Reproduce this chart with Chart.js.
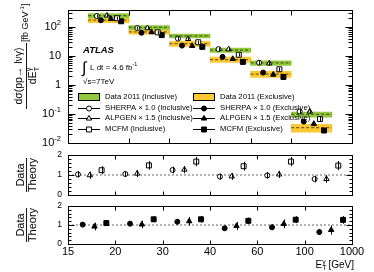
<!DOCTYPE html>
<html>
<head>
<meta charset="utf-8">
<script src="https://cdn.jsdelivr.net/npm/chart.js@4.4.0/dist/chart.umd.min.js"></script>
<style>
html, body { margin: 0; padding: 0; background: #fff; }
#wrap { position: relative; width: 374px; height: 272px; overflow: hidden; }
canvas { position: absolute; left: 0; }
</style>
</head>
<body>
<div id="wrap">
  <canvas id="mainChart" width="374" height="150" style="top:0px"></canvas>
  <canvas id="ratioInclChart" width="374" height="50" style="top:150px"></canvas>
  <canvas id="ratioExclChart" width="374" height="72" style="top:200px"></canvas>
</div>
<script>
// bin edges of photon ET (GeV), bins are drawn with equal width
const binEdges = ['15', '20', '30', '40', '60', '100', '1000'];

// Data 2011, dsigma/dET [fb/GeV] and relative band half width
const dataIncl = [250, 98, 50, 16, 5.8, 0.098];
const dataExcl = [175, 69, 27, 7.6, 2.4, 0.034];
const dataInclErr = [0.17, 0.16, 0.16, 0.17, 0.18, 0.2];
const dataExclErr = [0.18, 0.18, 0.2, 0.21, 0.23, 0.3];

// predictions
const sherpaIncl = [242, 93, 40, 17.4, 5.9, 0.123];
const alpgenIncl = [252, 92, 39, 17.2, 5.6, 0.123];
const mcfmIncl = [202, 66, 30, 11.1, 3.5, 0.067];
const sherpaExcl = [172, 64, 23, 9.4, 2.7, 0.055];
const alpgenExcl = [192, 67, 22.5, 8.0, 2.3, 0.046];
const mcfmExcl = [159, 53, 20.8, 6.3, 1.9, 0.027];
const theoryErr = [0.12, 0.12, 0.13, 0.13, 0.15, 0.18];

// data / theory
const ratioSherpaIncl = [1.03, 1.05, 1.25, 0.92, 0.98, 0.80];
const ratioAlpgenIncl = [0.99, 1.07, 1.27, 0.93, 1.03, 0.80];
const ratioMcfmIncl = [1.24, 1.48, 1.67, 1.44, 1.67, 1.47];
const ratioSherpaExcl = [1.02, 1.07, 1.17, 0.83, 0.88, 0.63];
const ratioAlpgenExcl = [0.92, 1.03, 1.20, 0.95, 1.06, 0.74];
const ratioMcfmExcl = [1.10, 1.30, 1.30, 1.22, 1.28, 1.27];

const ratioErrSherpaIncl = [0.15, 0.15, 0.17, 0.15, 0.16, 0.17];
const ratioErrAlpgenIncl = [0.18, 0.17, 0.18, 0.17, 0.18, 0.19];
const ratioErrMcfmIncl = [0.2, 0.21, 0.23, 0.22, 0.23, 0.23];
const ratioErrSherpaExcl = [0.13, 0.13, 0.15, 0.14, 0.15, 0.16];
const ratioErrAlpgenExcl = [0.2, 0.2, 0.22, 0.21, 0.23, 0.24];
const ratioErrMcfmExcl = [0.15, 0.15, 0.17, 0.17, 0.18, 0.2];

const inclLabels = ['Data 2011 (Inclusive)', 'SHERPA \u00d7 1.0 (Inclusive)', 'ALPGEN \u00d7 1.5 (Inclusive)', 'MCFM (Inclusive)'];
const exclLabels = ['Data 2011 (Exclusive)', 'SHERPA \u00d7 1.0 (Exclusive)', 'ALPGEN \u00d7 1.5 (Exclusive)', 'MCFM (Exclusive)'];

const GREEN = '#93c83e';
const YELLOW = '#fcc934';
const FONT = "'Liberation Sans', Arial, Helvetica, sans-serif";

Chart.defaults.font.family = FONT;
Chart.defaults.color = '#000';

// marker style per series, off = position inside the bin
const STYLE = {
    sherpaIncl: { shape: 'circle', fill: '#fff', off: 0.21, r: 2.5 },
    sherpaExcl: { shape: 'circle', fill: '#000', off: 0.31, r: 2.5 },
    alpgenIncl: { shape: 'triangle', fill: '#fff', off: 0.46, r: 3.1 },
    alpgenExcl: { shape: 'triangle', fill: '#000', off: 0.56, r: 3.1 },
    mcfmIncl: { shape: 'rect', fill: '#fff', off: 0.71, r: 3.5 },
    mcfmExcl: { shape: 'rect', fill: '#000', off: 0.81, r: 3.5 }
};

function markerSet(values, errs, key, relErr) {
    const s = STYLE[key];
    return {
        type: 'scatter',
        data: values.map((v, i) => ({ x: i + s.off, y: v })),
        errs: errs,
        relErr: relErr,
        pointStyle: s.shape,
        pointRadius: s.r,
        backgroundColor: s.fill,
        borderColor: '#000',
        borderWidth: 1,
        order: 1
    };
}

function bandSet(values, errs, color) {
    return {
        type: 'bar',
        data: values.map((v, i) => ({ x: i + 0.5, y: [v * (1 - errs[i]), v * (1 + errs[i])] })),
        backgroundColor: color,
        borderWidth: 0,
        grouped: false,
        barPercentage: 1,
        categoryPercentage: 1,
        order: 10
    };
}

function centreLine(values, color) {
    const pts = [];
    values.forEach((v, i) => {
        pts.push({ x: i, y: v }, { x: i + 1, y: v }, { x: i + 1, y: null });
    });
    return {
        type: 'line', data: pts, borderColor: color, borderWidth: 1.2,
        borderDash: [3, 2], pointRadius: 0, spanGaps: false, order: 9
    };
}

function drawShape(ctx, shape, fill, x, y, r) {
    ctx.beginPath();
    if (shape === 'circle') {
        ctx.arc(x, y, r, 0, Math.PI * 2);
    } else if (shape === 'triangle') {
        ctx.moveTo(x, y - r);
        ctx.lineTo(x + 0.866 * r, y + 0.5 * r);
        ctx.lineTo(x - 0.866 * r, y + 0.5 * r);
        ctx.closePath();
    } else {
        const h = r * Math.SQRT1_2;
        ctx.rect(x - h, y - h, 2 * h, 2 * h);
    }
    ctx.fillStyle = fill;
    ctx.fill();
    ctx.stroke();
}

function hline(ctx, x1, y1, x2, y2) {
    ctx.beginPath();
    ctx.moveTo(x1, y1);
    ctx.lineTo(x2, y2);
    ctx.stroke();
}

// text with optional superscript / subscript pieces
function richText(ctx, parts, x, y, align, size) {
    let w = 0;
    parts.forEach(p => {
        ctx.font = (p.sup || p.sub ? size * 0.68 : size) + 'px ' + FONT;
        p.w = ctx.measureText(p.t).width;
        w += p.sub && p.stack ? 0 : p.w;
    });
    let cx = align === 'right' ? x - w : align === 'center' ? x - w / 2 : x;
    ctx.textAlign = 'left';
    ctx.textBaseline = 'middle';
    parts.forEach(p => {
        ctx.font = (p.sup || p.sub ? size * 0.68 : size) + 'px ' + FONT;
        const dy = p.sup ? -size * 0.38 : p.sub ? size * 0.3 : 0;
        ctx.fillText(p.t, cx, y + dy);
        if (!(p.sub && p.stack)) cx += p.w;
    });
}

const errorBarPlugin = {
    id: 'errorBars',
    afterDatasetsDraw(chart) {
        const ctx = chart.ctx;
        const ys = chart.scales.y;
        ctx.save();
        ctx.strokeStyle = '#000';
        ctx.lineWidth = 1;
        chart.data.datasets.forEach((ds, di) => {
            if (!ds.errs) return;
            const meta = chart.getDatasetMeta(di);
            meta.data.forEach((pt, i) => {
                const v = ds.data[i].y;
                const e = ds.errs[i];
                const lo = ds.relErr ? v * (1 - e) : v - e;
                const hi = ds.relErr ? v * (1 + e) : v + e;
                const x = Math.round(pt.x) + 0.5;
                hline(ctx, x, ys.getPixelForValue(lo), x, ys.getPixelForValue(hi));
            });
        });
        ctx.restore();
    }
};

// ATLAS style box with inward ticks on all sides
const framePlugin = {
    id: 'frame',
    afterDraw(chart, args, o) {
        const ctx = chart.ctx;
        const a = chart.chartArea;
        const xs = chart.scales.x;
        const ys = chart.scales.y;
        ctx.save();
        ctx.strokeStyle = '#000';
        ctx.fillStyle = '#000';
        ctx.lineWidth = 1;
        const L = Math.round(a.left) + 0.5, R = Math.round(a.right) + 0.5;
        const T = Math.round(a.top) + 0.5, B = Math.round(a.bottom) + 0.5;
        ctx.strokeRect(L, T, R - L, B - T);
        const ytick = (v, len) => {
            const y = Math.round(ys.getPixelForValue(v)) + 0.5;
            hline(ctx, L, y, L + len, y);
            hline(ctx, R, y, R - len, y);
        };
        o.yMajor.forEach(v => ytick(v, o.majorLen));
        o.yMinor.forEach(v => ytick(v, o.minorLen));
        for (let i = 1; i < binEdges.length - 1; i++) {
            const x = Math.round(xs.getPixelForValue(i)) + 0.5;
            hline(ctx, x, B, x, B - o.xLen);
            hline(ctx, x, T, x, T + o.xLen);
        }
        o.yLabels.forEach(l => {
            const parts = [{ t: l.t }];
            if (l.sup) parts.push({ t: l.sup, sup: true });
            richText(ctx, parts, o.labelX, ys.getPixelForValue(l.v), 'right', o.labelSize);
        });
        if (o.xLabels) {
            ctx.font = '11px ' + FONT;
            ctx.textAlign = 'center';
            ctx.textBaseline = 'middle';
            binEdges.forEach((t, i) => ctx.fillText(t, xs.getPixelForValue(i), B + 7.5));
            richText(ctx, [{ t: 'E' }, { t: 'T', sub: true, stack: true }, { t: '\u03b3', sup: true }, { t: ' [GeV]' }],
                354, B + 21, 'right', 10);
        }
        ctx.restore();
    }
};

// Data / Theory titles on the ratio panels
const ratioTitlePlugin = {
    id: 'ratioTitle',
    afterDraw(chart) {
        const ctx = chart.ctx;
        const a = chart.chartArea;
        ctx.save();
        ctx.translate(26.5, (a.top + a.bottom) / 2);
        ctx.rotate(-Math.PI / 2);
        ctx.fillStyle = '#000';
        ctx.strokeStyle = '#000';
        ctx.font = '11px ' + FONT;
        ctx.textAlign = 'center';
        ctx.textBaseline = 'middle';
        ctx.fillText('Data', 0, -6);
        ctx.fillText('Theory', 0, 6.5);
        ctx.lineWidth = 0.9;
        hline(ctx, -17, 0, 17, 0);
        ctx.restore();
    }
};

// legend, labels and axis title of the top panel
const mainDecorPlugin = {
    id: 'mainDecor',
    afterDraw(chart) {
        const ctx = chart.ctx;
        ctx.save();
        ctx.fillStyle = '#000';
        ctx.strokeStyle = '#000';
        ctx.textBaseline = 'middle';
        ctx.textAlign = 'left';

        ctx.font = 'bold italic 9.5px ' + FONT;
        ctx.fillText('ATLAS', 83, 50);
        ctx.font = '16px ' + FONT;
        ctx.fillText('\u222b', 82, 69);
        richText(ctx, [{ t: 'L dt = 4.6 fb' }, { t: '-1', sup: true }], 90, 68, 'left', 8);
        richText(ctx, [{ t: '\u221as=7TeV' }], 83, 82, 'left', 8);

        // legend
        const rows = [97, 107.5, 118, 128.5];
        const cols = [
            { x0: 78, x1: 100, tx: 105, labels: inclLabels, color: GREEN, keys: ['sherpaIncl', 'alpgenIncl', 'mcfmIncl'] },
            { x0: 193, x1: 215, tx: 220, labels: exclLabels, color: YELLOW, keys: ['sherpaExcl', 'alpgenExcl', 'mcfmExcl'] }
        ];
        cols.forEach(c => {
            ctx.lineWidth = 1;
            ctx.fillStyle = c.color;
            ctx.fillRect(c.x0, rows[0] - 4, c.x1 - c.x0, 8);
            ctx.strokeRect(c.x0 + 0.5, rows[0] - 3.5, c.x1 - c.x0 - 1, 7);
            c.keys.forEach((k, j) => {
                const y = Math.round(rows[j + 1]) + 0.5;
                const s = STYLE[k];
                hline(ctx, c.x0, y, c.x1, y);
                drawShape(ctx, s.shape, s.fill, (c.x0 + c.x1) / 2, y, s.r);
            });
            ctx.fillStyle = '#000';
            ctx.font = '7.7px ' + FONT;
            ctx.textAlign = 'left';
            ctx.textBaseline = 'middle';
            c.labels.forEach((t, j) => ctx.fillText(t, c.tx, rows[j]));
        });

        // rotated y title
        ctx.translate(26, 76);
        ctx.rotate(-Math.PI / 2);
        ctx.textAlign = 'center';
        ctx.font = '10.5px ' + FONT;
        ctx.fillText('d\u03c3(pp\u2192 l\u03bd\u03b3)', 0, -6.5);
        richText(ctx, [{ t: 'dE' }, { t: 'T', sub: true, stack: true }, { t: '\u03b3', sup: true }], 0, 7.5, 'center', 10.5);
        ctx.lineWidth = 0.9;
        hline(ctx, -33, 0.5, 33, 0.5);
        richText(ctx, [{ t: '[fb GeV' }, { t: '-1', sup: true }, { t: ']' }], 34, 0, 'left', 9);
        ctx.restore();
    }
};

const logMinor = [];
for (let d = -2; d <= 2; d++) {
    for (let m = 2; m <= 9; m++) {
        if (m * Math.pow(10, d) < 390) logMinor.push(m * Math.pow(10, d));
    }
}
const ratioMinor = [0.2, 0.4, 0.6, 0.8, 1.2, 1.4, 1.6, 1.8];

const commonOptions = {
    responsive: false,
    animation: false,
    devicePixelRatio: 1,
    events: []
};

new Chart(document.getElementById('mainChart'), {
    data: {
        datasets: [
            bandSet(dataIncl, dataInclErr, GREEN),
            bandSet(dataExcl, dataExclErr, YELLOW),
            centreLine(dataIncl, 'rgba(40,70,10,0.75)'),
            centreLine(dataExcl, 'rgba(90,60,0,0.75)'),
            markerSet(sherpaIncl, theoryErr, 'sherpaIncl', true),
            markerSet(sherpaExcl, theoryErr, 'sherpaExcl', true),
            markerSet(alpgenIncl, theoryErr, 'alpgenIncl', true),
            markerSet(alpgenExcl, theoryErr, 'alpgenExcl', true),
            markerSet(mcfmIncl, theoryErr, 'mcfmIncl', true),
            markerSet(mcfmExcl, theoryErr, 'mcfmExcl', true)
        ]
    },
    options: Object.assign({}, commonOptions, {
        layout: { padding: { left: 68, right: 22, top: 10, bottom: 7 } },
        scales: {
            x: { type: 'linear', min: 0, max: 6, display: false, ticks: { stepSize: 1 } },
            y: { type: 'logarithmic', min: 0.01, max: 390, display: false }
        },
        plugins: {
            legend: { display: false },
            tooltip: { enabled: false },
            frame: {
                yMajor: [0.01, 0.1, 1, 10, 100], yMinor: logMinor, majorLen: 7, minorLen: 4, xLen: 5,
                labelX: 61, labelSize: 11,
                yLabels: [
                    { v: 100, t: '10', sup: '2' }, { v: 10, t: '10' }, { v: 1, t: '1' },
                    { v: 0.1, t: '10', sup: '-1' }, { v: 0.01, t: '10', sup: '-2' }
                ]
            }
        }
    }),
    plugins: [errorBarPlugin, framePlugin, mainDecorPlugin]
});

function ratioChart(id, sets, padding, showX) {
    return new Chart(document.getElementById(id), {
        data: {
            datasets: [
                {
                    type: 'line', data: [{ x: 0, y: 1 }, { x: 6, y: 1 }], borderColor: '#666',
                    borderWidth: 1, borderDash: [2, 2], pointRadius: 0, order: 9
                }
            ].concat(sets)
        },
        options: Object.assign({}, commonOptions, {
            layout: { padding: padding },
            scales: {
                x: { type: 'linear', min: 0, max: 6, display: false },
                y: { type: 'linear', min: 0, max: 2, display: false }
            },
            plugins: {
                legend: { display: false },
                tooltip: { enabled: false },
                frame: {
                    yMajor: [0, 1, 2], yMinor: ratioMinor, majorLen: 6, minorLen: 3, xLen: 4,
                    labelX: 62, labelSize: 8.5, xLabels: showX,
                    yLabels: [{ v: 0, t: '0' }, { v: 1, t: '1' }, { v: 2, t: '2' }]
                }
            }
        }),
        plugins: [errorBarPlugin, framePlugin, ratioTitlePlugin]
    });
}

ratioChart('ratioInclChart', [
    markerSet(ratioSherpaIncl, ratioErrSherpaIncl, 'sherpaIncl', false),
    markerSet(ratioAlpgenIncl, ratioErrAlpgenIncl, 'alpgenIncl', false),
    markerSet(ratioMcfmIncl, ratioErrMcfmIncl, 'mcfmIncl', false)
], { left: 68, right: 22, top: 4, bottom: 4 }, false);

ratioChart('ratioExclChart', [
    markerSet(ratioSherpaExcl, ratioErrSherpaExcl, 'sherpaExcl', false),
    markerSet(ratioAlpgenExcl, ratioErrAlpgenExcl, 'alpgenExcl', false),
    markerSet(ratioMcfmExcl, ratioErrMcfmExcl, 'mcfmExcl', false)
], { left: 68, right: 22, top: 6, bottom: 28 }, true);
</script>
</body>
</html>
